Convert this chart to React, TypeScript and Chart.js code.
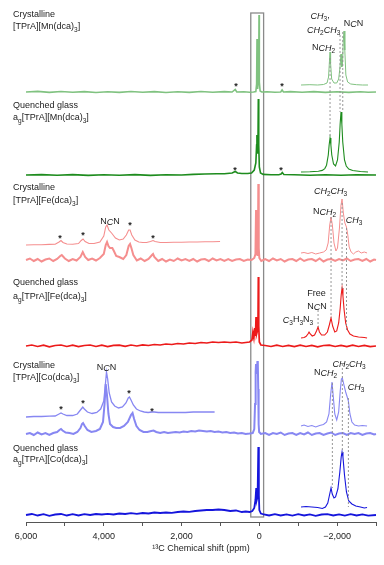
import React, { useEffect, useRef } from 'react';
import { Chart, registerables } from 'chart.js';
Chart.register(...registerables);

type Pt = [number, number];

// ---------- axis ----------
const X_MIN = -3000;
const X_MAX = 6000;
const tickValues = [6000, 4000, 2000, 0, -2000];
const tickLabels = ['6,000', '4,000', '2,000', '0', '\u22122,000'];
const axisTitle = '\u00b9\u00b3C Chemical shift (ppm)';

// ---------- spectra (ppm, intensity) ----------
const mnCrystal: Pt[] = [[6000,0],[5700,0.6],[5400,-0.4],[5100,0.5],[4800,-0.3],[4500,0.4],[4200,-0.5],[3900,0.3],[3600,-0.4],[3300,0.5],[3000,-0.3],[2700,0.4],[2400,-0.5],[2100,0.3],[1800,-0.4],[1500,0.5],[1200,-0.3],[900,0.4],[700,0],[620,2.5],[580,0],[400,0.3],[250,-0.3],[150,0],[90,0.5],[70,8],[60,53],[52,6],[35,3],[18,15],[8,77],[0,10],[-20,1],[-60,0],[-200,0.3],[-400,-0.3],[-550,0],[-585,2],[-620,0],[-800,0.4],[-1100,-0.3],[-1400,0.4],[-1700,-0.4],[-2000,0.3],[-2300,-0.4],[-2600,0.3],[-2800,-0.3],[-3000,0]];
const mnCrystalInset: Pt[] = [[-1072,0],[-1300,0.3],[-1500,0],[-1650,0.5],[-1740,2],[-1780,8],[-1805,25],[-1818,33],[-1832,22],[-1860,6],[-1920,2],[-1990,2],[-2040,6],[-2075,18],[-2100,31],[-2120,18],[-2140,22],[-2160,45],[-2178,54],[-2198,35],[-2225,10],[-2270,3],[-2350,1],[-2500,0.3],[-2650,0],[-2795,0]];
const mnGlass: Pt[] = [[6000,0],[5600,0.4],[5200,-0.3],[4800,0.4],[4400,-0.4],[4000,0.3],[3600,-0.3],[3200,0.4],[2800,-0.4],[2400,0.3],[2000,0],[1700,0.6],[1400,1],[1100,1.2],[900,1.3],[700,2],[620,3.5],[560,2],[450,1.5],[300,1.5],[200,2],[130,5],[90,12],[70,30],[62,40],[50,22],[35,30],[26,76],[15,30],[0,8],[-30,2],[-100,0.6],[-300,0.3],[-500,0.3],[-560,1],[-590,2.5],[-630,0.5],[-900,0.2],[-1300,-0.3],[-1700,0.3],[-2100,-0.3],[-2500,0.3],[-3000,0]];
const mnGlassInset: Pt[] = [[-1072,0],[-1300,0.3],[-1518,0.8],[-1618,1.6],[-1683,3.4],[-1728,6.8],[-1773,17],[-1795,27],[-1818,34],[-1840,27],[-1863,17],[-1908,8],[-1960,6],[-2010,12],[-2055,30],[-2078,48],[-2100,60],[-2122,48],[-2145,30],[-2190,12],[-2235,6],[-2300,3],[-2400,1.5],[-2600,0.5],[-2795,0]];
const feCrystal: Pt[] = [[6000,0],[5900,1.5],[5800,-1],[5700,1],[5600,-1.5],[5500,0.5],[5400,1.5],[5300,-1],[5200,1],[5120,4],[5080,5],[5000,1.5],[4900,-1],[4800,1],[4700,-0.5],[4600,3],[4540,8],[4480,3],[4400,0],[4300,1.5],[4200,-0.5],[4100,2],[4000,6],[3950,15],[3916,18],[3880,14],[3840,12],[3780,12],[3740,9],[3680,4],[3600,3],[3500,1],[3420,5],[3360,14],[3324,16],[3290,12],[3240,5],[3150,-0.5],[3050,1.5],[2950,-1],[2850,1],[2760,5],[2733,6],[2700,3],[2600,-1],[2500,1],[2400,-1.5],[2300,0.5],[2200,-1],[2100,1.5],[2000,-0.5],[1900,1],[1800,-1],[1700,1],[1600,-1.5],[1500,0.5],[1400,1],[1300,-1],[1200,1.5],[1100,-0.5],[1000,1],[900,-1],[800,1],[700,-1],[600,0.5],[500,1],[400,-1],[300,0.5],[200,0],[130,2],[100,6],[85,50],[72,8],[50,5],[35,15],[26,76],[15,12],[0,2],[-50,-1],[-150,1],[-250,-1],[-350,1.5],[-450,-0.5],[-550,1],[-650,-1.5],[-750,0.5],[-850,1],[-950,-1],[-1050,1.5],[-1150,-1],[-1250,0.5],[-1350,1],[-1450,-1],[-1550,1.5],[-1650,-1.5],[-1750,0.5],[-1850,1],[-1950,-1],[-2050,1],[-2150,-0.5],[-2250,1.5],[-2350,-1],[-2450,0.5],[-2550,1],[-2650,-1],[-2750,1],[-2850,-1.5],[-2950,0.5],[-3000,0]];
const feCrystalSidebands: Pt[] = [[6000,0],[5800,0.3],[5600,0.2],[5400,0.6],[5250,0.8],[5150,3],[5100,4.5],[5050,2.5],[4950,1],[4800,0.8],[4650,1.5],[4580,4.5],[4533,6],[4480,3.5],[4380,1.5],[4250,1.5],[4100,3],[4000,9],[3950,18],[3916,20],[3870,15],[3800,12],[3761,10],[3700,7],[3600,5],[3500,6],[3420,10],[3360,15],[3324,15],[3280,10],[3200,5],[3100,3],[3000,2.5],[2900,2.5],[2800,3.5],[2733,4.5],[2680,3.5],[2550,2.5],[2400,2.5],[2200,2.8],[2000,2.8],[1800,3],[1600,3],[1400,3.2],[1200,3.2],[1010,3.5]];
const feCrystalInset: Pt[] = [[-1072,0],[-1150,0.5],[-1250,-0.5],[-1350,0.5],[-1450,-1],[-1550,0],[-1650,1],[-1720,3],[-1770,10],[-1810,28],[-1844,36],[-1878,28],[-1920,10],[-1970,2],[-2010,5],[-2060,25],[-2100,48],[-2127,54],[-2160,40],[-2200,30],[-2240,26],[-2275,18],[-2310,6],[-2360,1],[-2420,-1],[-2480,1],[-2550,2],[-2620,0],[-2700,1],[-2770,0]];
const feGlass: Pt[] = [[6000,0],[5850,1],[5700,-0.5],[5550,0.8],[5400,-0.8],[5250,0.5],[5100,1],[4950,-0.5],[4800,0.8],[4650,-0.6],[4500,0.5],[4350,1],[4200,-0.5],[4050,0.8],[3900,-0.6],[3750,0.6],[3600,0.8],[3450,-0.3],[3300,1],[3150,0],[3000,1.2],[2850,0.5],[2700,1.5],[2550,1],[2400,2],[2250,1.5],[2100,2.5],[1950,2],[1800,3],[1650,2.5],[1500,3.5],[1350,3],[1200,4],[1050,3.5],[900,4],[750,3.5],[600,4],[450,3],[350,3.5],[250,4],[190,6],[165,14],[140,8],[115,18],[100,10],[85,29],[70,12],[50,15],[35,20],[26,69],[15,20],[0,4],[-40,1],[-150,0.5],[-300,-0.5],[-450,0.8],[-600,-0.5],[-750,0.6],[-900,-0.6],[-1050,0.8],[-1200,-0.5],[-1350,0.6],[-1500,-0.8],[-1650,0.5],[-1800,0.8],[-1950,-0.5],[-2100,0.6],[-2250,-0.6],[-2400,0.8],[-2550,-0.5],[-2700,0.6],[-2850,-0.6],[-3000,0]];
const feGlassInset: Pt[] = [[-1072,0],[-1150,0.5],[-1200,1.5],[-1250,4],[-1278,6],[-1310,4],[-1360,2],[-1420,3],[-1470,7],[-1510,11],[-1545,6],[-1600,3],[-1680,3],[-1750,6],[-1800,13],[-1844,20],[-1885,12],[-1940,6],[-1990,7],[-2040,15],[-2080,30],[-2105,43],[-2127,50],[-2150,42],[-2180,28],[-2220,15],[-2270,8],[-2330,4],[-2420,2],[-2550,1],[-2700,0.5],[-2770,0]];
const coCrystal: Pt[] = [[6000,0],[5900,1],[5800,-1],[5700,1.5],[5600,-0.5],[5500,1],[5400,-1],[5300,1],[5200,2],[5140,4],[5100,5],[5060,3.5],[4980,1.5],[4880,1],[4780,0],[4680,2],[4600,6],[4560,10],[4533,11],[4490,8],[4420,4],[4320,2],[4200,3],[4100,5],[4020,12],[3980,30],[3950,50],[3920,40],[3880,20],[3840,10],[3760,7],[3680,6],[3580,6],[3480,8],[3380,12],[3300,19],[3260,21],[3220,15],[3160,8],[3080,4],[2980,2],[2880,2],[2780,3],[2720,3.5],[2650,2],[2550,1],[2450,2],[2350,1],[2250,1.5],[2150,2],[2050,1.5],[1950,2.5],[1850,2],[1750,3],[1650,2.5],[1550,3.5],[1450,3],[1350,2.5],[1250,3],[1150,2],[1050,2.5],[950,1.5],[850,2],[750,1],[650,1.5],[550,0.5],[450,1],[350,0],[250,0.5],[170,1],[130,5],[110,30],[95,62],[85,70],[65,60],[50,72],[40,73],[28,45],[18,10],[5,2],[-40,0],[-150,1],[-250,-1],[-350,1],[-450,0],[-550,1.5],[-650,-1],[-750,0.5],[-850,1],[-950,-1],[-1050,1],[-1150,-0.5],[-1250,1.5],[-1350,-1],[-1450,0.5],[-1550,1],[-1650,-1],[-1750,0.5],[-1850,1.5],[-1950,-1],[-2050,0.5],[-2150,1],[-2250,-1],[-2350,1],[-2450,0],[-2550,1],[-2650,-1],[-2750,0.5],[-2850,1],[-2950,-0.5],[-3000,0]];
const coCrystalSidebands: Pt[] = [[6000,0],[5800,0.5],[5600,0.5],[5400,0.8],[5250,1],[5150,3],[5100,4],[5050,3],[4950,1.5],[4800,1.5],[4680,3],[4600,7],[4540,10],[4500,8],[4420,5],[4300,3.5],[4180,4.5],[4080,8],[4000,16],[3960,32],[3930,45],[3900,38],[3860,24],[3800,15],[3720,11],[3620,9],[3520,10],[3430,14],[3370,19],[3340,20],[3300,17],[3240,12],[3160,8],[3060,6],[2960,5],[2860,4.5],[2760,5],[2700,5],[2600,4.5],[2450,4.5],[2300,4.5],[2100,4.5],[1900,4.5],[1700,5],[1500,5],[1300,5],[1150,5]];
const coCrystalInset: Pt[] = [[-1072,0],[-1150,1],[-1250,-0.5],[-1350,0.5],[-1450,-1],[-1550,0.5],[-1650,1.5],[-1730,4],[-1790,12],[-1830,30],[-1869,44],[-1900,30],[-1940,12],[-1990,6],[-2040,14],[-2080,35],[-2110,47],[-2135,48],[-2170,42],[-2220,34],[-2260,29],[-2290,25],[-2330,12],[-2380,4],[-2450,1],[-2550,0],[-2650,0.5],[-2770,0]];
const coGlass: Pt[] = [[6000,0],[5850,1],[5700,-0.5],[5550,0.8],[5400,-0.8],[5250,0.5],[5100,1],[4950,-0.5],[4800,0.8],[4650,-0.5],[4500,0.8],[4350,0],[4200,1],[4050,0.5],[3900,1.2],[3750,0.5],[3600,1.5],[3450,1],[3300,1.8],[3150,1.2],[3000,2],[2850,1.5],[2700,2.5],[2550,2],[2400,2.5],[2250,2.2],[2100,3],[1950,3.5],[1800,3.2],[1650,4],[1500,4.5],[1350,5],[1200,5],[1050,5.5],[900,5],[750,4],[600,4.5],[450,3],[350,3.5],[250,3],[180,4],[130,7],[100,15],[80,27],[65,15],[45,18],[26,68],[12,20],[0,5],[-40,1.5],[-120,0.5],[-250,-0.5],[-400,0.8],[-550,-0.5],[-700,0.6],[-850,-0.6],[-1000,0.8],[-1150,-0.5],[-1300,0.6],[-1450,-0.8],[-1600,0.5],[-1750,0.8],[-1900,-0.5],[-2050,0.6],[-2200,-0.6],[-2350,0.8],[-2500,-0.5],[-2650,0.6],[-2800,-0.6],[-3000,0]];
const coGlassInset: Pt[] = [[-1072,0],[-1200,0.5],[-1350,0],[-1500,-0.5],[-1620,-1.5],[-1700,0],[-1760,4],[-1810,13],[-1844,19],[-1875,13],[-1920,9],[-1960,10],[-2020,18],[-2070,35],[-2105,50],[-2127,55],[-2150,50],[-2190,32],[-2240,15],[-2300,6],[-2380,3],[-2480,1],[-2600,0],[-2700,-1],[-2770,-0.5]];

// ---------- sample names ----------
const sampleStates = ['Crystalline', 'Quenched glass', 'Crystalline', 'Quenched glass', 'Crystalline', 'Quenched glass'];
const sampleMetals = ['Mn', 'Mn', 'Fe', 'Fe', 'Co', 'Co'];
const sampleGlass = [false, true, false, true, false, true];

// ---------- styling / layout ----------
const FF = '"Liberation Sans", Arial, Helvetica, sans-serif';
const TEXT = '#222';
const Y_MAX = 509;

const traces = [
  { data: mnCrystal, offset: 430, color: '#80c280', width: 1.6 },
  { data: mnCrystalInset, offset: 437, color: '#80c280', width: 1 },
  { data: mnGlass, offset: 347, color: '#1e8c1e', width: 1.6 },
  { data: mnGlassInset, offset: 350, color: '#1e8c1e', width: 1.1 },
  { data: feCrystal, offset: 262, color: '#f58e8e', width: 2 },
  { data: feCrystalSidebands, offset: 277, color: '#f58e8e', width: 1.1 },
  { data: feCrystalInset, offset: 269, color: '#f58e8e', width: 1 },
  { data: feGlass, offset: 176, color: '#ec1a1a', width: 1.7 },
  { data: feGlassInset, offset: 184, color: '#ec1a1a', width: 1.1 },
  { data: coCrystal, offset: 88, color: '#8787f2', width: 2 },
  { data: coCrystalSidebands, offset: 105, color: '#8787f2', width: 1.3 },
  { data: coCrystalInset, offset: 96, color: '#8787f2', width: 1.1 },
  { data: coGlass, offset: 7, color: '#1515dc', width: 1.8 },
  { data: coGlassInset, offset: 15, color: '#1515dc', width: 1.1 },
];

type Seg = [string, string];
const nameLabelY = [[507, 495], [416, 404], [334, 321], [239, 225], [156, 144], [73, 62]];
const NAME_X = 6333;

const CH2CH3: Seg[] = [['CH', 'i'], ['2', 's'], ['CH', 'i'], ['3', 's']];
const NCH2: Seg[] = [['N', 'n'], ['CH', 'i'], ['2', 's']];
const CH3: Seg[] = [['CH', 'i'], ['3', 's']];
const NCN: Seg[] = [['N', 'n'], ['C', 'i'], ['N', 'n']];

const peakLabels: { x: number; y: number; segs: Seg[] }[] = [
  { x: -1563, y: 506, segs: [['CH', 'i'], ['3', 's'], [',', 'n']] },
  { x: -1654, y: 492, segs: CH2CH3 },
  { x: -2423, y: 498, segs: NCN },
  { x: -1652, y: 474, segs: NCH2 },
  { x: -1833, y: 331, segs: CH2CH3 },
  { x: -1677, y: 310, segs: NCH2 },
  { x: -2435, y: 302, segs: CH3 },
  { x: -1471, y: 228, segs: [['Free', 'n']] },
  { x: -1484, y: 215, segs: NCN },
  { x: -995, y: 202, segs: [['C', 'i'], ['3', 's'], ['H', 'n'], ['3', 's'], ['N', 'n'], ['3', 's']] },
  { x: 3837, y: 300, segs: NCN },
  { x: -2306, y: 158, segs: CH2CH3 },
  { x: -1702, y: 149, segs: NCH2 },
  { x: -2486, y: 135, segs: CH3 },
  { x: 3929, y: 154, segs: NCN },
];

const asterisks: [number, number][] = [
  [599, 437], [-584, 437], [625, 353], [-558, 353],
  [5125, 285], [4533, 288], [3324, 298], [2733, 285],
  [5099, 114], [4533, 120], [3350, 130], [2759, 112],
];

const guides: [number, number, number][] = [
  [-1818, 464, 385], [-2075, 487, 410], [-2145, 490, 410],
  [-1844, 305, 204], [-2127, 319, 232], [-2242, 294, 192], [-1510, 212, 195],
  [-1877, 139, 34], [-2134, 158, 69], [-2289, 124, 15],
];

const frameBox = { x0: 220, x1: -110, y0: 5, y1: 509 };

function fontFor(style: string) {
  if (style === 'i') return `italic 9px ${FF}`;
  if (style === 's') return `6.5px ${FF}`;
  return `9px ${FF}`;
}

function drawRich(ctx: CanvasRenderingContext2D, segs: Seg[], x: number, y: number, align: 'left' | 'center') {
  let total = 0;
  const widths = segs.map(([t, s]) => {
    ctx.font = fontFor(s);
    const w = ctx.measureText(t).width;
    total += w;
    return w;
  });
  let cx = align === 'center' ? x - total / 2 : x;
  ctx.textAlign = 'left';
  ctx.textBaseline = 'middle';
  ctx.fillStyle = TEXT;
  segs.forEach(([t, s], i) => {
    ctx.font = fontFor(s);
    ctx.fillText(t, cx, s === 's' ? y + 3 : y);
    cx += widths[i];
  });
}

const annotate = {
  id: 'annotate',
  beforeDatasetsDraw(chart: any) {
    const { ctx, scales } = chart;
    const xs = scales.x, ys = scales.y;
    ctx.save();
    ctx.strokeStyle = '#8a8a8a';
    ctx.lineWidth = 1.3;
    const x0 = xs.getPixelForValue(frameBox.x0), x1 = xs.getPixelForValue(frameBox.x1);
    const y0 = ys.getPixelForValue(frameBox.y1), y1 = ys.getPixelForValue(frameBox.y0);
    ctx.strokeRect(x0, y0, x1 - x0, y1 - y0);
    ctx.restore();
  },
  afterDatasetsDraw(chart: any) {
    const { ctx, scales } = chart;
    const xs = scales.x, ys = scales.y;
    ctx.save();
    ctx.strokeStyle = '#8c8c8c';
    ctx.lineWidth = 0.9;
    ctx.setLineDash([2, 2]);
    guides.forEach(([x, a, b]) => {
      const px = xs.getPixelForValue(x);
      ctx.beginPath();
      ctx.moveTo(px, ys.getPixelForValue(a));
      ctx.lineTo(px, ys.getPixelForValue(b));
      ctx.stroke();
    });
    ctx.setLineDash([]);
    sampleStates.forEach((state, i) => {
      const [y1, y2] = nameLabelY[i];
      const px = xs.getPixelForValue(NAME_X);
      drawRich(ctx, [[state, 'n']], px, ys.getPixelForValue(y1), 'left');
      const segs: Seg[] = [];
      if (sampleGlass[i]) segs.push(['a', 'n'], ['g', 's']);
      segs.push([`[TPrA][${sampleMetals[i]}(dca)`, 'n'], ['3', 's'], [']', 'n']);
      drawRich(ctx, segs, px, ys.getPixelForValue(y2), 'left');
    });
    peakLabels.forEach((l) => drawRich(ctx, l.segs, xs.getPixelForValue(l.x), ys.getPixelForValue(l.y), 'center'));
    ctx.font = `bold 9px ${FF}`;
    ctx.fillStyle = TEXT;
    ctx.textAlign = 'center';
    ctx.textBaseline = 'middle';
    asterisks.forEach(([x, y]) => ctx.fillText('*', xs.getPixelForValue(x), ys.getPixelForValue(y) + 2));
    ctx.restore();
  },
};

export default function App() {
  const ref = useRef<HTMLCanvasElement>(null);
  useEffect(() => {
    if (!ref.current) return;
    Chart.defaults.font.family = FF;
    const chart = new Chart(ref.current, {
      type: 'line',
      data: {
        datasets: traces.map((t) => ({
          data: t.data.map(([x, y]) => ({ x, y: y + t.offset })),
          borderColor: t.color,
          borderWidth: t.width,
          pointRadius: 0,
          tension: 0,
          fill: false,
          clip: false as any,
        })),
      },
      options: {
        animation: false,
        responsive: false,
        devicePixelRatio: 1,
        layout: { padding: { left: 26, right: 8, top: 13, bottom: 0 } },
        plugins: { legend: { display: false }, tooltip: { enabled: false } },
        scales: {
          x: {
            type: 'linear',
            min: X_MIN,
            max: X_MAX,
            reverse: true,
            afterFit: (s: any) => { s.height = 43; },
            border: { display: true, color: '#555', width: 1 },
            grid: { drawOnChartArea: false, drawTicks: true, tickLength: 4, color: '#555' },
            ticks: {
              stepSize: 1000,
              autoSkip: false,
              maxRotation: 0,
              padding: 5,
              color: TEXT,
              font: { size: 9, family: FF },
              callback: (v: any) => {
                const i = tickValues.indexOf(Number(v));
                return i >= 0 ? tickLabels[i] : '';
              },
            },
            title: { display: true, text: axisTitle, color: TEXT, font: { size: 9, family: FF }, padding: { top: 0, bottom: 11 } },
          },
          y: { display: false, min: 0, max: Y_MAX },
        },
      },
      plugins: [annotate],
    });
    return () => chart.destroy();
  }, []);
  return (
    <div style={{ position: 'absolute', left: 0, top: 0, width: 384, height: 565, background: '#fff' }}>
      <canvas ref={ref} width={384} height={565} />
    </div>
  );
}
